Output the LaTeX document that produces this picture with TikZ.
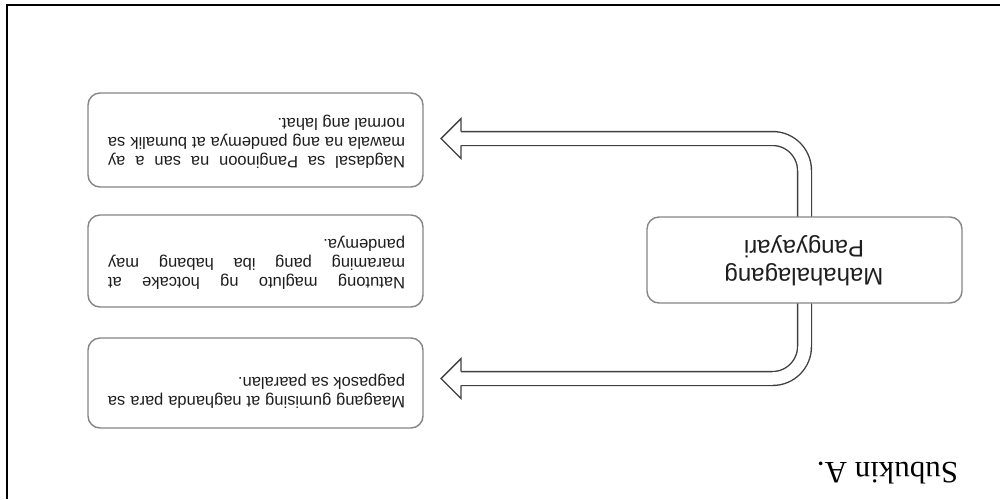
\documentclass[tikz,border=0pt]{standalone}
\usepackage{fontspec}
\usetikzlibrary{calc,backgrounds}
\setmainfont{Liberation Sans}
\newfontfamily\serifA{Liberation Serif}
\definecolor{boxgray}{HTML}{858585}
\definecolor{arrgray}{HTML}{404040}
\definecolor{txtcol}{HTML}{1E1E1E}
\begin{document}
\begin{tikzpicture}[x=1pt,y=-1pt,
  lbox/.style={draw=boxgray, line width=1.4pt, rounded corners=12pt, fill=white,
    minimum width=335pt, inner sep=0pt},
  mbox/.style={draw=boxgray, line width=1.4pt, rounded corners=12pt, fill=white,
    minimum width=315pt, minimum height=86pt, inner sep=0pt},
  btxt/.style={rotate=180, text=txtcol, inner sep=0pt, align=left,
    font=\fontsize{16.5}{19}\selectfont},
  mtxt/.style={rotate=180, text=txtcol, inner sep=0pt, align=center,
    font=\fontsize{24}{28}\selectfont},
  shaft/.style={draw=arrgray, double=white, line width=1.4pt, double distance=12.5pt,
    rounded corners=32pt},
  head/.style={draw=arrgray, fill=white, line width=1.4pt, line join=miter}
]
\useasboundingbox (0,0) rectangle (1000,499);
\draw[line width=2pt] (7,499) -- (7,5) -- (1000,5);

\node[mbox] (mp) at (804.5,260) {};
\node[mtxt] (mt) at (804,261) {Mahahalagang\\Pangyayari};

% arrows behind the box
\coordinate (h1) at (461,138.5);
\coordinate (h2) at (461,378.5);
\begin{scope}[on background layer]
\draw[shaft] (mp.center) |- (h1);
\draw[shaft] (mp.center) |- (h2);
\filldraw[head] ($(h1)+(0,-6.95)$) -- ($(h1)+(0,-20)$) -- ($(h1)+(-20,0)$) -- ($(h1)+(0,20)$) -- ($(h1)+(0,6.95)$);
\filldraw[head] ($(h2)+(0,-6.95)$) -- ($(h2)+(0,-20)$) -- ($(h2)+(-20,0)$) -- ($(h2)+(0,20)$) -- ($(h2)+(0,6.95)$);
\end{scope}

% left boxes
\node[lbox, minimum height=94pt] (b1) at (255.5,140) {};
\node[lbox, minimum height=92pt] (b2) at (255.5,261) {};
\node[lbox, minimum height=90pt] (b3) at (255.5,383) {};

\node[btxt] (t1) at (256.5,141.5) {\makebox[297pt][s]{Nagdasal sa Panginoon na san a ay}\\
  \makebox[297pt][s]{mawala na ang pandemya at bumalik sa}\\
  \makebox[297pt][l]{normal ang lahat.}};
\node[btxt] (t2) at (256.5,263) {\makebox[297pt][s]{Natutong magluto ng hotcake at}\\
  \makebox[297pt][s]{maraming pang iba habang may}\\
  \makebox[297pt][l]{pandemya.}};
\node[btxt] (t3) at (256.5,391) {\makebox[297pt][s]{Maagang gumising at naghanda para sa}\\
  \makebox[297pt][l]{pagpasok sa paaralan.}};

\node[rotate=180, inner sep=0pt, font=\serifA\fontsize{31}{36}\selectfont, text=black] (sub) at (887.5,473) {Subukin A.};
\end{tikzpicture}
\end{document}
